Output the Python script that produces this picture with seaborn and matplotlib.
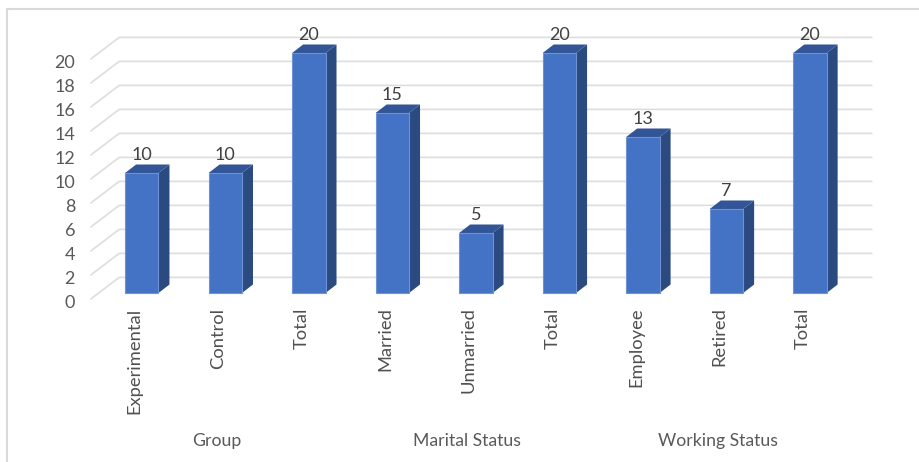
import pandas as pd
import matplotlib
matplotlib.use("Agg")
import matplotlib.pyplot as plt
from matplotlib.lines import Line2D
from matplotlib.transforms import ScaledTranslation
import seaborn as sns

categories = ["Experimental", "Control", "Total", "Married", "Unmarried", "Total", "Employee", "Retired", "Total"]
values = [10, 10, 20, 15, 5, 20, 13, 7, 20]
groups = ["Group", "Marital Status", "Working Status"]
group_centres = [0.9, 3.9, 6.9]
y_ticks = list(range(0, 21, 2))

sns.set_theme(style="white")
plt.rcParams["font.family"] = ["Lato", "DejaVu Sans"]

W, H = 919, 462
DPI = 100
fig = plt.figure(figsize=(W / DPI, H / DPI), dpi=DPI, facecolor="white")
ax = fig.add_axes([100 / W, (H - 293) / H, 751.7 / W, 240 / H])

df = pd.DataFrame({"pos": range(len(values)), "value": values})
sns.barplot(data=df, x="pos", y="value", color="#4472C4", saturation=1, width=0.4,
            edgecolor="#6F92D4", linewidth=0.8, zorder=3, ax=ax)
ax.set_xlim(-0.5, 8.5)
ax.set_ylim(0, 20)
ax.set_xlabel("")
ax.set_ylabel("")
sns.despine(ax=ax, left=True, bottom=True)

# depth of the fake 3d, in data units
dx = 11 / 83.5
dy = 8.5 / 12

# gridlines: side wall then back wall
wall_front_x, wall_back_x, wall_right_x = -0.61, -0.27, 8.74
for v in y_ticks:
    ax.plot([wall_front_x, wall_back_x, wall_right_x], [v - 0.5, v + 1.3, v + 1.3],
            color="#DDDDDD", lw=1.2, zorder=1, clip_on=False, solid_joinstyle="miter")

# side and top faces of each bar
for bar in ax.patches:
    x0, w, h = bar.get_x(), bar.get_width(), bar.get_height()
    x1 = x0 + w
    ax.fill([x1, x1 + dx, x1 + dx, x1], [0, dy, h + dy, h], color="#2B4A80", lw=0, zorder=2.5, clip_on=False)
    ax.fill([x0, x1, x1 + dx, x0 + dx], [h, h, h + dy, h + dy], color="#325597", lw=0, zorder=2.5, clip_on=False)
    bar.set_clip_on(False)

for c in ax.containers:
    ax.bar_label(c, labels=[str(v) for v in values], padding=7, fontsize=13, color="#404040", zorder=5)

ax.set_yticks(y_ticks)
ax.set_yticklabels([str(v) for v in y_ticks])
ax.tick_params(axis="y", length=0, pad=18, labelsize=13, labelcolor="#595959")
shift_y = ScaledTranslation(0, -9 / DPI, fig.dpi_scale_trans)
for lab in ax.get_yticklabels():
    lab.set_transform(lab.get_transform() + shift_y)

ax.set_xticks(range(len(categories)))
ax.set_xticklabels(categories, rotation=90, ha="center", va="top")
ax.tick_params(axis="x", length=0, pad=10.5, labelsize=13.2, labelcolor="#505050")
shift_x = ScaledTranslation(-7 / DPI, 0, fig.dpi_scale_trans)
for lab in ax.get_xticklabels():
    lab.set_transform(lab.get_transform() + shift_x)

for name, cx in zip(groups, group_centres):
    ax.text(cx, -0.617, name, transform=ax.get_xaxis_transform(), ha="center", va="center",
            fontsize=12.7, color="#595959", clip_on=False)

# outer chart frame, cropped at right and bottom
frame = "#D9D9D9"
fig.add_artist(Line2D([7 / W, 7 / W], [0, 1 - 9 / H], color=frame, lw=1.5))
fig.add_artist(Line2D([7 / W, 1], [1 - 9 / H, 1 - 9 / H], color=frame, lw=1.5))

fig.savefig("out.png", dpi=DPI)
